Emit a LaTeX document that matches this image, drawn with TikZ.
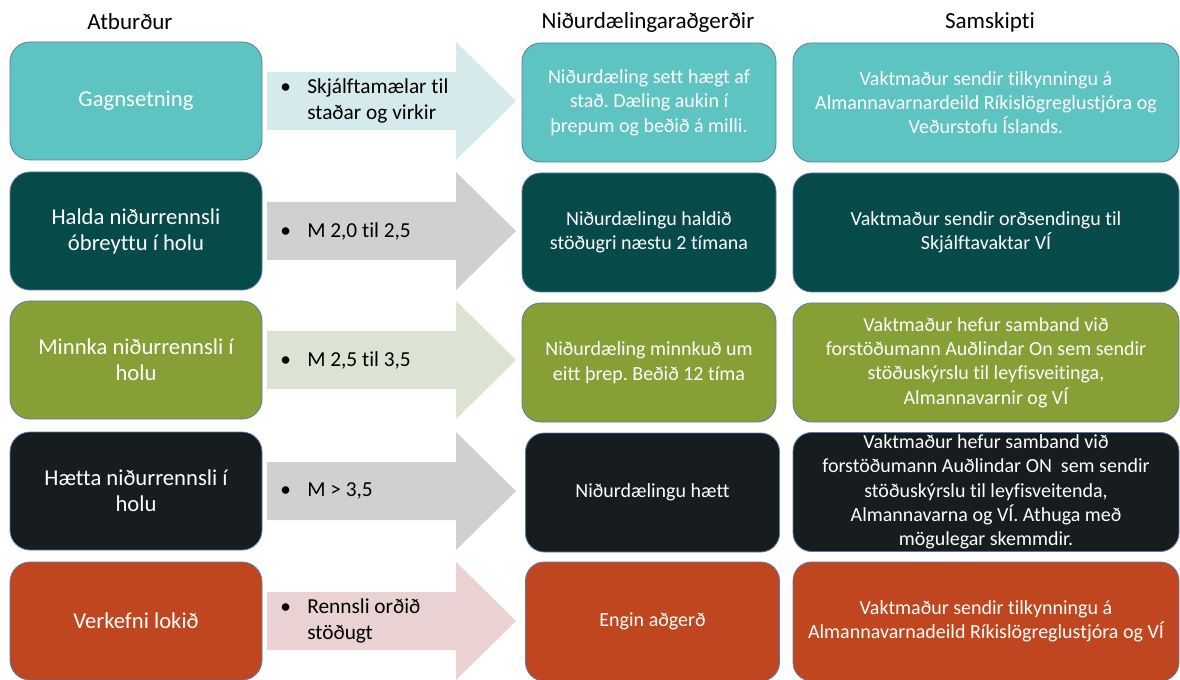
\documentclass[tikz,border=0pt]{standalone}
\usepackage{fontspec}
\setmainfont{Carlito}[Ligatures={NoCommon}]
\frenchspacing
\definecolor{cA}{HTML}{5EC4C1}
\definecolor{cB}{HTML}{074A4A}
\definecolor{cC}{HTML}{86A036}
\definecolor{cD}{HTML}{171C1F}
\definecolor{cE}{HTML}{BF461F}
\definecolor{aA}{HTML}{D5EAEA}
\definecolor{aB}{HTML}{D0D0D0}
\definecolor{aC}{HTML}{DCE3D2}
\definecolor{aD}{HTML}{D0D0D0}
\definecolor{aE}{HTML}{EAD2D2}
\definecolor{edge}{HTML}{5A7BA8}
\tikzset{
  hdr/.style={font=\fontsize{17.3}{20}\selectfont, text=black, inner sep=0pt},
  leftbox/.style={draw=edge, line width=0.6pt, rounded corners=15pt, text=white, align=center, inner sep=0pt,
    minimum width=189pt, minimum height=88.5pt, font=\fontsize{17}{19.5}\selectfont},
  midbox/.style={draw=edge, line width=0.6pt, rounded corners=14pt, text=white, align=center, inner sep=0pt,
    minimum width=190.5pt, minimum height=89.25pt, font=\fontsize{15}{18.4}\selectfont},
  rightbox/.style={draw=edge, line width=0.6pt, rounded corners=14pt, text=white, align=center, inner sep=0pt,
    minimum width=289.5pt, minimum height=89.25pt, font=\fontsize{15}{18.2}\selectfont},
  arrtext/.style={anchor=west, align=left, inner sep=0pt, text=black, font=\fontsize{16}{19.5}\selectfont},
}
\newcommand{\bul}{\makebox[20.25pt][l]{\textbullet}}
\newcommand{\bigarrow}[2]{%
  \fill[#2] (267,#1-29) -- (456,#1-29) -- (456,#1-59) -- (516,#1) -- (456,#1+59) -- (456,#1+29) -- (267,#1+29) -- cycle;}
\begin{document}
\begin{tikzpicture}[x=0.75pt,y=-0.75pt]
\useasboundingbox (0,0) rectangle (1180,680);

% headers
\node[hdr] (h1) at (130,22) {Atburður};
\node[hdr] (h2) at (648,22) {Niðurdælingaraðgerðir};
\node[hdr] (h3) at (990,22) {Samskipti};

% arrows
\bigarrow{101}{aA}
\bigarrow{231}{aB}
\bigarrow{360}{aC}
\bigarrow{491}{aD}
\bigarrow{621}{aE}

\node[arrtext] (t1) at (280,101) {\begin{tabular}{@{}l@{}l@{}}\bul & Skjálftamælar til\\ & staðar og virkir\end{tabular}};
\node[arrtext] (t2) at (280,231) {\bul M 2,0 til 2,5};
\node[arrtext] (t3) at (280,360) {\bul M 2,5 til 3,5};
\node[arrtext] (t4) at (280,491) {\bul M > 3,5};
\node[arrtext] (t5) at (280,621) {\begin{tabular}{@{}l@{}l@{}}\bul & Rennsli orðið\\ & stöðugt\end{tabular}};

% left boxes
\node[leftbox, fill=cA] (l1) at (136,101) {Gagnsetning};
\node[leftbox, fill=cB] (l2) at (136,231) {Halda niðurrennsli\\óbreyttu í holu};
\node[leftbox, fill=cC] (l3) at (136,360) {Minnka niðurrennsli í\\holu};
\node[leftbox, fill=cD] (l4) at (136,491) {Hætta niðurrennsli í\\holu};
\node[leftbox, fill=cE] (l5) at (136,621) {Verkefni lokið};

% middle boxes
\node[midbox, fill=cA] (m1) at (649,102.5) {Niðurdæling sett hægt af\\stað. Dæling aukin í\\þrepum og beðið á milli.};
\node[midbox, fill=cB] (m2) at (649,232.5) {Niðurdælingu haldið\\stöðugri næstu 2 tímana};
\node[midbox, fill=cC] (m3) at (649,362.5) {Niðurdæling minnkuð um\\eitt þrep. Beðið 12 tíma};
\node[midbox, fill=cD] (m4) at (652.5,492.5) {Niðurdælingu hætt};
\node[midbox, fill=cE] (m5) at (652.5,621.5) {Engin aðgerð};

% right boxes
\node[rightbox, fill=cA] (r1) at (986,102.5) {Vaktmaður sendir tilkynningu á\\Almannavarnardeild Ríkislögreglustjóra og\\Veðurstofu Íslands.};
\node[rightbox, fill=cB] (r2) at (986,232.5) {Vaktmaður sendir orðsendingu til\\Skjálftavaktar VÍ};
\node[rightbox, fill=cC] (r3) at (986,362.5) {Vaktmaður hefur samband við\\forstöðumann Auðlindar On sem sendir\\stöðuskýrslu til leyfisveitinga,\\Almannavarnir og VÍ};
\node[rightbox, fill=cD] (r4) at (986,492) {Vaktmaður hefur samband við\\forstöðumann Auðlindar ON\ \ sem sendir\\stöðuskýrslu til leyfisveitenda,\\Almannavarna og VÍ. Athuga með\\mögulegar skemmdir.};
\node[rightbox, fill=cE] (r5) at (986,621.5) {Vaktmaður sendir tilkynningu á\\Almannavarnadeild Ríkislögreglustjóra og VÍ};
\end{tikzpicture}
\end{document}
